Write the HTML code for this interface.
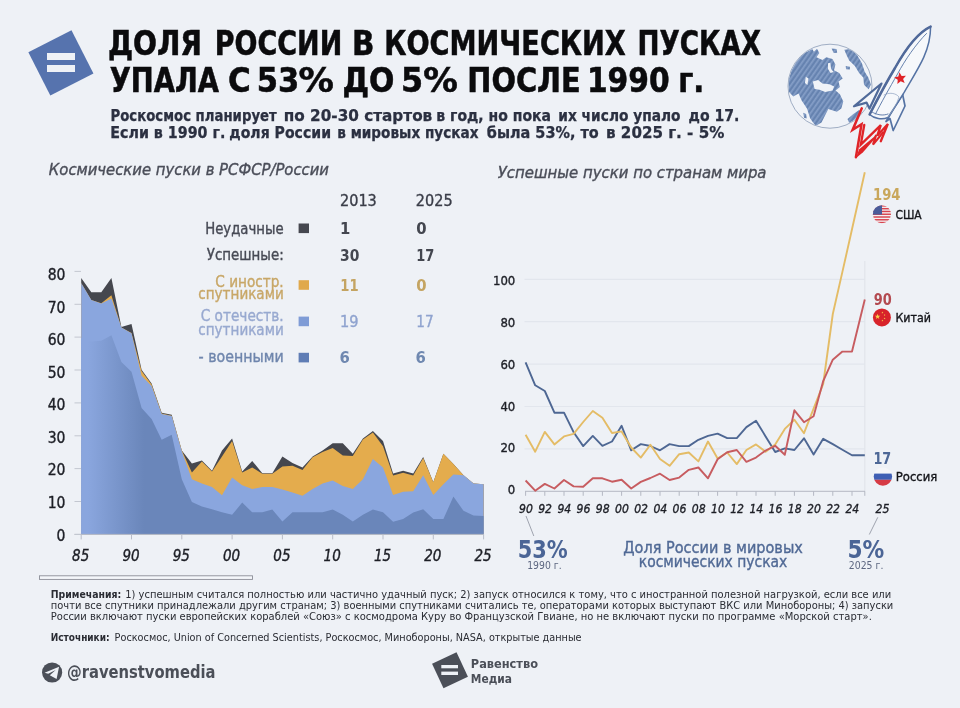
<!DOCTYPE html>
<html lang="ru"><head><meta charset="utf-8"><title>Доля России в космических пусках</title>
<style>
html,body{margin:0;padding:0;background:#eef1f6;}
body{width:960px;height:708px;overflow:hidden;}
svg{display:block;font-family:'DejaVu Sans Condensed','DejaVu Sans','Liberation Sans',sans-serif;}
text{white-space:pre;}
</style></head><body>
<svg width="960" height="708" viewBox="0 0 960 708">
<rect width="960" height="708" fill="#eef1f6"/>
<defs>
<pattern id="hatch" width="4" height="4" patternUnits="userSpaceOnUse" patternTransform="rotate(-55)">
<rect width="4" height="4" fill="#6e8bb9"/>
<rect y="0.4" width="4" height="0.9" fill="#96add1"/>
<rect y="2.5" width="4" height="0.8" fill="#5a77a3"/>
</pattern>
<clipPath id="gc"><circle cx="830" cy="86.2" r="41.5"/></clipPath>
</defs>
<circle cx="830" cy="86.2" r="42" fill="#f0f3f8" stroke="#7c8fae" stroke-width="0.7"/>
<g clip-path="url(#gc)" fill="url(#hatch)">
<path d="M 809.0 50.8 L 812.2 49.1 L 813.9 51.7 L 817.0 48.8 L 819.3 53.1 L 816.4 57.3 L 822.4 59.9 L 826.3 57.3 L 832.5 59.0 L 835.4 64.4 L 834.0 70.3 L 839.3 72.9 L 842.7 78.5 L 838.5 81.6 L 839.9 87.0 L 835.6 90.4 L 839.9 94.3 L 843.3 101.4 L 841.3 108.4 L 836.8 111.8 L 828.3 109.0 L 825.8 114.1 L 821.5 122.6 L 815.6 126.0 L 810.2 118.6 L 807.1 108.7 L 801.5 100.3 L 798.6 93.5 L 793.3 96.6 L 788.8 91.8 L 788.1 81.6 L 791.3 70.3 L 796.9 60.4 L 802.6 54.1 Z M 812.8 81.6 L 818.1 79.9 L 822.4 83.4 L 829.4 84.2 L 834.2 86.6 L 832.5 90.4 L 825.2 92.1 L 819.5 89.8 L 814.6 89.0 Z M 805.8 76.8 L 808.5 78.5 L 807.4 85.0 L 804.9 83.0 Z M 828.0 63.2 L 830.3 62.7 L 831.1 68.9 L 833.7 72.0 L 830.6 72.9 L 828.0 68.9 Z" fill-rule="evenodd"/>
<path d="M 844.3 49.8 L 850.6 49.1 L 857.0 54.8 L 861.9 63.2 L 864.7 71.7 L 868.3 77.4 L 871.0 84.4 L 868.6 89.2 L 864.0 84.7 L 863.3 77.4 L 859.1 73.1 L 854.9 66.1 L 849.2 60.4 L 846.4 54.8 Z"/>
<path d="M 831.6 48.4 L 836.5 49.1 L 837.2 52.7 L 833.7 52.9 Z"/>
<path d="M 845.7 66.1 L 849.9 66.8 L 849.9 69.6 L 846.1 69.2 Z"/>
<path d="M 803.3 112.7 L 806.1 114.1 L 806.8 118.6 L 804.0 117.8 Z"/>
<path d="M 847.5 118.9 L 853.4 114.1 L 859.1 109.9 L 861.6 112.7 L 854.9 120.0 L 849.2 123.1 Z"/>
</g>
<g stroke-linejoin="round" stroke-linecap="round">
<polygon points="855.7,158.2 859.2,149.3 876.8,134.5 875.0,138.5 862.8,152.5" fill="#e02428"/>
<polyline points="861.8,108.3 852.6,129.9 861.5,124.3 855.9,157.3" fill="none" stroke="#e02428" stroke-width="2.5" stroke-linejoin="miter"/>
<polyline points="875.9,135.7 873.0,144.6 883.1,132.4" fill="none" stroke="#e02428" stroke-width="2.2" stroke-linejoin="miter"/>
<polyline points="864.3,124.8 860.8,144.6 880.8,125.2 877.3,135.7 887.9,123.9 880.8,141.3" fill="none" stroke="#e02428" stroke-width="2.3" stroke-linejoin="miter"/>
<path d="M881.5 83.5 L854 106.3 L866.5 102.6 L869.5 108.5 Z" fill="#f4f6fa" stroke="#506a9a" stroke-width="2.2"/>
<path d="M902.5 94 L905 106 L893.2 130.5 L890 118.5 L886 121.5 Z" fill="#f4f6fa" stroke="#5573a4" stroke-width="1.7"/>
<path d="M930.6 26.6 C917 33 905 50 895 68 C886 83 876 102 869.6 114.5 C874 118.5 882 120 888 117.5 C894 108 899 101 903.5 93.5 C910 82 919 68 923.7 57.4 C928 48 930.6 36 930.6 26.6 Z" fill="#f6f8fb" stroke="#5573a4" stroke-width="1.5"/>
<path d="M930.6 26.6 C917 33 905 50 895 68 C886 83 876 102 869.6 114.5" fill="none" stroke="#50699a" stroke-width="2.5"/>
<path d="M926.5 33.5 C916 44 905 60 897.5 74 C889.5 88 881 103 875.5 114" fill="none" stroke="#5573a4" stroke-width="0.9"/>

<path d="M884 95 C889 92 896 93 899 97 C897 104 892 112 888 117" fill="none" stroke="#8da0c0" stroke-width="0.7"/>
<path d="M872 112 C877 115 883 116 888 114" fill="none" stroke="#5573a4" stroke-width="0.9"/>
</g>
<polygon points="899.42,72.26 901.63,76.00 905.96,75.74 903.09,78.99 904.68,83.03 900.69,81.31 897.34,84.06 897.75,79.74 894.10,77.41 898.33,76.46" fill="#e02428"/>

<g transform="translate(60.9 62.9) rotate(-27)"><rect x="-24.2" y="-24.2" width="48.4" height="48.4" fill="#5673ae"/></g>
<rect x="47" y="53" width="28" height="7" fill="#eef1f6"/><rect x="47" y="65" width="28" height="7" fill="#eef1f6"/>
<text y="54.5" font-size="33" font-weight="bold" fill="#0b0b0d" stroke="#0b0b0d" stroke-width="0.5"><tspan x="107.90" textLength="94.17" lengthAdjust="spacingAndGlyphs">ДОЛЯ</tspan> <tspan x="214.85" textLength="127.41" lengthAdjust="spacingAndGlyphs">РОССИИ</tspan> <tspan x="352.10" textLength="22.42" lengthAdjust="spacingAndGlyphs">В</tspan> <tspan x="384.25" textLength="241.54" lengthAdjust="spacingAndGlyphs">КОСМИЧЕСКИХ</tspan> <tspan x="637.55" textLength="123.56" lengthAdjust="spacingAndGlyphs">ПУСКАХ</tspan></text>
<text y="92" font-size="33" font-weight="bold" fill="#0b0b0d" stroke="#0b0b0d" stroke-width="0.5"><tspan x="109.65" textLength="109.26" lengthAdjust="spacingAndGlyphs">УПАЛА</tspan> <tspan x="228.10" textLength="22.75" lengthAdjust="spacingAndGlyphs">С</tspan> <tspan x="256.75" textLength="42.50" lengthAdjust="spacingAndGlyphs">53</tspan><tspan x="298.40" textLength="35.38" lengthAdjust="spacingAndGlyphs">%</tspan> <tspan x="342.45" textLength="51.93" lengthAdjust="spacingAndGlyphs">ДО</tspan> <tspan x="401.05" textLength="22.11" lengthAdjust="spacingAndGlyphs">5</tspan><tspan x="423.20" textLength="34.63" lengthAdjust="spacingAndGlyphs">%</tspan> <tspan x="467.30" textLength="113.43" lengthAdjust="spacingAndGlyphs">ПОСЛЕ</tspan> <tspan x="586.95" textLength="82.76" lengthAdjust="spacingAndGlyphs">1990</tspan> <tspan x="678.15" textLength="26.02" lengthAdjust="spacingAndGlyphs">г.</tspan></text>
<text y="121.3" font-size="15.5" font-weight="bold" fill="#2b3041" stroke="#2b3041" stroke-width="0.25"><tspan x="110.50" textLength="166.26" lengthAdjust="spacingAndGlyphs">Роскосмос планирует</tspan> <tspan x="283.75" textLength="148.52" lengthAdjust="spacingAndGlyphs">по 20-30 стартов</tspan> <tspan x="436.30" textLength="114.79" lengthAdjust="spacingAndGlyphs">в год, но пока</tspan> <tspan x="558.30" textLength="122.27" lengthAdjust="spacingAndGlyphs">их число упало</tspan> <tspan x="688.55" textLength="50.84" lengthAdjust="spacingAndGlyphs">до 17.</tspan></text>
<text y="137.5" font-size="15.5" font-weight="bold" fill="#2b3041" stroke="#2b3041" stroke-width="0.25"><tspan x="110.25" textLength="115.06" lengthAdjust="spacingAndGlyphs">Если в 1990 г.</tspan> <tspan x="229.25" textLength="101.78" lengthAdjust="spacingAndGlyphs">доля России</tspan> <tspan x="337.30" textLength="141.26" lengthAdjust="spacingAndGlyphs">в мировых пусках</tspan> <tspan x="486.80" textLength="112.01" lengthAdjust="spacingAndGlyphs">была 53%, то</tspan> <tspan x="606.05" textLength="118.28" lengthAdjust="spacingAndGlyphs">в 2025 г. - 5%</tspan></text>
<text x="48.8" y="175.3" font-size="15.5" font-weight="normal" font-style="italic" fill="#4b4e59" text-anchor="start" textLength="280.2" lengthAdjust="spacingAndGlyphs" stroke="#4b4e59" stroke-width="0.35">Космические пуски в РСФСР/России</text>
<text x="497.8" y="178.4" font-size="15.5" font-weight="normal" font-style="italic" fill="#4b4e59" text-anchor="start" textLength="268.7" lengthAdjust="spacingAndGlyphs" stroke="#4b4e59" stroke-width="0.35">Успешные пуски по странам мира</text>
<defs><linearGradient id="mg" gradientUnits="userSpaceOnUse" x1="88" y1="0" x2="144" y2="0"><stop offset="0" stop-color="#8aa6de"/><stop offset="1" stop-color="#6a86ba"/></linearGradient></defs>
<polygon points="81.2,534.4 81.2,278.1 91.3,292.2 101.3,292.2 111.4,278.1 121.4,326.9 131.5,323.9 141.6,369.8 151.6,383.5 161.7,412.7 171.7,414.7 181.8,450.4 191.9,463.6 201.9,460.6 212.0,470.8 222.0,450.4 232.1,438.6 242.2,471.6 252.2,460.9 262.3,473.3 272.3,473.3 282.4,456.4 292.5,463.1 302.5,467.4 312.6,456.4 322.6,450.4 332.7,443.3 342.8,443.3 352.8,453.8 362.9,438.6 372.9,430.9 383.0,441.1 393.1,473.4 403.1,470.8 413.2,473.4 423.2,456.9 433.3,482.3 443.4,453.7 453.4,463.9 463.5,475.3 473.5,483.6 483.6,484.2 483.6,534.4" fill="#45474e"/>
<polygon points="81.2,534.4 81.2,283.0 91.3,300.0 101.3,303.3 111.4,295.2 121.4,327.5 131.5,333.0 141.6,371.0 151.6,384.5 161.7,413.5 171.7,415.7 181.8,450.6 191.9,472.5 201.9,461.4 212.0,471.6 222.0,456.4 232.1,441.1 242.2,472.5 252.2,467.4 262.3,473.8 272.3,473.8 282.4,466.5 292.5,465.7 302.5,469.9 312.6,457.2 322.6,452.1 332.7,447.9 342.8,455.5 352.8,456.0 362.9,439.4 372.9,432.6 383.0,446.2 393.1,475.5 403.1,472.8 413.2,475.5 423.2,458.1 433.3,482.3 443.4,453.7 453.4,463.9 463.5,475.3 473.5,483.6 483.6,484.2 483.6,534.4" fill="#e4ac4d"/>
<polygon points="81.2,534.4 81.2,283.0 91.3,300.1 101.3,303.5 111.4,298.4 121.4,327.5 131.5,333.2 141.6,375.7 151.6,385.9 161.7,413.9 171.7,416.0 181.8,451.3 191.9,479.2 201.9,483.5 212.0,486.9 222.0,495.3 232.1,477.5 242.2,485.2 252.2,489.1 262.3,486.9 272.3,486.9 282.4,489.4 292.5,492.5 302.5,495.8 312.6,489.1 322.6,483.5 332.7,480.6 342.8,486.0 352.8,489.1 362.9,479.2 372.9,458.9 383.0,467.4 393.1,495.0 403.1,491.8 413.2,491.2 423.2,475.3 433.3,495.0 443.4,484.2 453.4,474.4 463.5,475.3 473.5,483.6 483.6,484.2 483.6,534.4" fill="#8aa6de"/>
<polygon points="81.2,534.4 81.2,338.0 91.3,341.5 101.3,340.8 111.4,335.2 121.4,362.0 131.5,371.8 141.6,407.9 151.6,419.0 161.7,439.8 171.7,434.8 181.8,479.2 191.9,502.1 201.9,506.4 212.0,509.2 222.0,512.3 232.1,514.8 242.2,502.6 252.2,512.3 262.3,512.3 272.3,509.4 282.4,521.6 292.5,512.3 302.5,512.3 312.6,512.3 322.6,512.3 332.7,509.4 342.8,514.8 352.8,521.6 362.9,514.8 372.9,509.4 383.0,512.3 393.1,521.7 403.1,519.0 413.2,512.4 423.2,509.2 433.3,519.0 443.4,519.0 453.4,496.6 463.5,510.8 473.5,515.6 483.6,515.9 483.6,534.4" fill="url(#mg)"/>
<line x1="74.5" y1="534.4" x2="484" y2="534.4" stroke="#b9bdc8" stroke-width="1"/>
<line x1="74.5" y1="534.4" x2="81" y2="534.4" stroke="#c3c7d0" stroke-width="1"/>
<text x="65.4" y="540.5" font-size="15.5" font-weight="normal" font-style="normal" fill="#1d1f26" text-anchor="end" stroke="#1d1f26" stroke-width="0.35">0</text>
<line x1="74.5" y1="501.5" x2="81" y2="501.5" stroke="#c3c7d0" stroke-width="1"/>
<text x="65.4" y="507.9" font-size="15.5" font-weight="normal" font-style="normal" fill="#1d1f26" text-anchor="end" stroke="#1d1f26" stroke-width="0.35">10</text>
<line x1="74.5" y1="468.6" x2="81" y2="468.6" stroke="#c3c7d0" stroke-width="1"/>
<text x="65.4" y="475.4" font-size="15.5" font-weight="normal" font-style="normal" fill="#1d1f26" text-anchor="end" stroke="#1d1f26" stroke-width="0.35">20</text>
<line x1="74.5" y1="435.8" x2="81" y2="435.8" stroke="#c3c7d0" stroke-width="1"/>
<text x="65.4" y="442.8" font-size="15.5" font-weight="normal" font-style="normal" fill="#1d1f26" text-anchor="end" stroke="#1d1f26" stroke-width="0.35">30</text>
<line x1="74.5" y1="402.9" x2="81" y2="402.9" stroke="#c3c7d0" stroke-width="1"/>
<text x="65.4" y="410.3" font-size="15.5" font-weight="normal" font-style="normal" fill="#1d1f26" text-anchor="end" stroke="#1d1f26" stroke-width="0.35">40</text>
<line x1="74.5" y1="370.0" x2="81" y2="370.0" stroke="#c3c7d0" stroke-width="1"/>
<text x="65.4" y="377.7" font-size="15.5" font-weight="normal" font-style="normal" fill="#1d1f26" text-anchor="end" stroke="#1d1f26" stroke-width="0.35">50</text>
<line x1="74.5" y1="337.1" x2="81" y2="337.1" stroke="#c3c7d0" stroke-width="1"/>
<text x="65.4" y="345.1" font-size="15.5" font-weight="normal" font-style="normal" fill="#1d1f26" text-anchor="end" stroke="#1d1f26" stroke-width="0.35">60</text>
<line x1="74.5" y1="304.3" x2="81" y2="304.3" stroke="#c3c7d0" stroke-width="1"/>
<text x="65.4" y="312.6" font-size="15.5" font-weight="normal" font-style="normal" fill="#1d1f26" text-anchor="end" stroke="#1d1f26" stroke-width="0.35">70</text>
<line x1="74.5" y1="271.4" x2="81" y2="271.4" stroke="#c3c7d0" stroke-width="1"/>
<text x="65.4" y="280.0" font-size="15.5" font-weight="normal" font-style="normal" fill="#1d1f26" text-anchor="end" stroke="#1d1f26" stroke-width="0.35">80</text>
<line x1="81.2" y1="534.4" x2="81.2" y2="539.4" stroke="#b9bdc8" stroke-width="1"/>
<text x="80.7" y="560.5" font-size="15" font-weight="normal" font-style="italic" fill="#1d1f26" text-anchor="middle" stroke="#1d1f26" stroke-width="0.35">85</text>
<line x1="131.5" y1="534.4" x2="131.5" y2="539.4" stroke="#b9bdc8" stroke-width="1"/>
<text x="131.0" y="560.5" font-size="15" font-weight="normal" font-style="italic" fill="#1d1f26" text-anchor="middle" stroke="#1d1f26" stroke-width="0.35">90</text>
<line x1="181.8" y1="534.4" x2="181.8" y2="539.4" stroke="#b9bdc8" stroke-width="1"/>
<text x="181.3" y="560.5" font-size="15" font-weight="normal" font-style="italic" fill="#1d1f26" text-anchor="middle" stroke="#1d1f26" stroke-width="0.35">95</text>
<line x1="232.1" y1="534.4" x2="232.1" y2="539.4" stroke="#b9bdc8" stroke-width="1"/>
<text x="231.6" y="560.5" font-size="15" font-weight="normal" font-style="italic" fill="#1d1f26" text-anchor="middle" stroke="#1d1f26" stroke-width="0.35">00</text>
<line x1="282.4" y1="534.4" x2="282.4" y2="539.4" stroke="#b9bdc8" stroke-width="1"/>
<text x="281.9" y="560.5" font-size="15" font-weight="normal" font-style="italic" fill="#1d1f26" text-anchor="middle" stroke="#1d1f26" stroke-width="0.35">05</text>
<line x1="332.7" y1="534.4" x2="332.7" y2="539.4" stroke="#b9bdc8" stroke-width="1"/>
<text x="332.2" y="560.5" font-size="15" font-weight="normal" font-style="italic" fill="#1d1f26" text-anchor="middle" stroke="#1d1f26" stroke-width="0.35">10</text>
<line x1="383.0" y1="534.4" x2="383.0" y2="539.4" stroke="#b9bdc8" stroke-width="1"/>
<text x="382.5" y="560.5" font-size="15" font-weight="normal" font-style="italic" fill="#1d1f26" text-anchor="middle" stroke="#1d1f26" stroke-width="0.35">15</text>
<line x1="433.3" y1="534.4" x2="433.3" y2="539.4" stroke="#b9bdc8" stroke-width="1"/>
<text x="432.8" y="560.5" font-size="15" font-weight="normal" font-style="italic" fill="#1d1f26" text-anchor="middle" stroke="#1d1f26" stroke-width="0.35">20</text>
<line x1="483.6" y1="534.4" x2="483.6" y2="539.4" stroke="#b9bdc8" stroke-width="1"/>
<text x="483.1" y="560.5" font-size="15" font-weight="normal" font-style="italic" fill="#1d1f26" text-anchor="middle" stroke="#1d1f26" stroke-width="0.35">25</text>
<text x="340.0" y="205.8" font-size="16.5" font-weight="normal" font-style="normal" fill="#3a3d48" text-anchor="start" textLength="36.8" lengthAdjust="spacingAndGlyphs" stroke="#3a3d48" stroke-width="0.35">2013</text>
<text x="415.8" y="205.8" font-size="16.5" font-weight="normal" font-style="normal" fill="#3a3d48" text-anchor="start" textLength="36.8" lengthAdjust="spacingAndGlyphs" stroke="#3a3d48" stroke-width="0.35">2025</text>
<text x="283.6" y="233.9" font-size="15.5" font-weight="normal" font-style="normal" fill="#474a55" text-anchor="end" textLength="78.4" lengthAdjust="spacingAndGlyphs" stroke="#474a55" stroke-width="0.35">Неудачные</text>
<text x="283.7" y="259.9" font-size="15.5" font-weight="normal" font-style="normal" fill="#474a55" text-anchor="end" textLength="76.9" lengthAdjust="spacingAndGlyphs" stroke="#474a55" stroke-width="0.35">Успешные:</text>
<text x="283.7" y="287.1" font-size="15.5" font-weight="normal" font-style="normal" fill="#c8a767" text-anchor="end" textLength="68.4" lengthAdjust="spacingAndGlyphs" stroke="#c8a767" stroke-width="0.35">С иностр.</text>
<text x="283.7" y="298.6" font-size="15.5" font-weight="normal" font-style="normal" fill="#c8a767" text-anchor="end" textLength="85.4" lengthAdjust="spacingAndGlyphs" stroke="#c8a767" stroke-width="0.35">спутниками</text>
<text x="283.7" y="320.5" font-size="15.5" font-weight="normal" font-style="normal" fill="#98a9d0" text-anchor="end" textLength="83.0" lengthAdjust="spacingAndGlyphs" stroke="#98a9d0" stroke-width="0.35">С отечеств.</text>
<text x="283.7" y="335.0" font-size="15.5" font-weight="normal" font-style="normal" fill="#98a9d0" text-anchor="end" textLength="85.4" lengthAdjust="spacingAndGlyphs" stroke="#98a9d0" stroke-width="0.35">спутниками</text>
<text x="283.7" y="362.0" font-size="15.5" font-weight="normal" font-style="normal" fill="#6f86ad" text-anchor="end" textLength="85.1" lengthAdjust="spacingAndGlyphs" stroke="#6f86ad" stroke-width="0.35">- военными</text>
<rect x="298.6" y="223.5" width="10.4" height="9.6" fill="#45474f"/>
<rect x="298.6" y="280.2" width="10.4" height="9.6" fill="#e0a94c"/>
<rect x="298.6" y="316.6" width="10.4" height="9.6" fill="#7f9cd6"/>
<rect x="298.6" y="352.8" width="10.4" height="9.6" fill="#5f7db5"/>
<text x="340.0" y="233.9" font-size="16.5" font-weight="bold" font-style="normal" fill="#43464f" text-anchor="start">1</text>
<text x="416.3" y="233.9" font-size="16.5" font-weight="bold" font-style="normal" fill="#43464f" text-anchor="start">0</text>
<text x="340.0" y="260.5" font-size="16.5" font-weight="bold" font-style="normal" fill="#43464f" text-anchor="start" textLength="19.3" lengthAdjust="spacingAndGlyphs">30</text>
<text x="416.3" y="260.5" font-size="16.5" font-weight="bold" font-style="normal" fill="#43464f" text-anchor="start" textLength="18.1" lengthAdjust="spacingAndGlyphs">17</text>
<text x="340.3" y="290.5" font-size="16.5" font-weight="bold" font-style="normal" fill="#c4a462" text-anchor="start" textLength="18.3" lengthAdjust="spacingAndGlyphs">11</text>
<text x="416.3" y="290.5" font-size="16.5" font-weight="bold" font-style="normal" fill="#c4a462" text-anchor="start">0</text>
<text x="340.0" y="326.9" font-size="16.5" font-weight="normal" font-style="normal" fill="#8fa3cf" text-anchor="start" textLength="18.6" lengthAdjust="spacingAndGlyphs" stroke="#8fa3cf" stroke-width="0.35">19</text>
<text x="416.3" y="326.9" font-size="16.5" font-weight="normal" font-style="normal" fill="#8fa3cf" text-anchor="start" textLength="17.3" lengthAdjust="spacingAndGlyphs" stroke="#8fa3cf" stroke-width="0.35">17</text>
<text x="339.5" y="362.9" font-size="16.5" font-weight="bold" font-style="normal" fill="#6f88b0" text-anchor="start">6</text>
<text x="415.5" y="362.9" font-size="16.5" font-weight="bold" font-style="normal" fill="#6f88b0" text-anchor="start">6</text>
<line x1="524.5" y1="448.9" x2="865" y2="448.9" stroke="#e2e6ed" stroke-width="1.2"/>
<line x1="524.5" y1="406.5" x2="865" y2="406.5" stroke="#e2e6ed" stroke-width="1.2"/>
<line x1="524.5" y1="364.1" x2="865" y2="364.1" stroke="#e2e6ed" stroke-width="1.2"/>
<line x1="524.5" y1="321.7" x2="865" y2="321.7" stroke="#e2e6ed" stroke-width="1.2"/>
<line x1="524.5" y1="279.3" x2="865" y2="279.3" stroke="#e2e6ed" stroke-width="1.2"/>
<line x1="864.8" y1="261" x2="864.8" y2="491.3" stroke="#e1e5ec" stroke-width="1.2"/>
<text x="515.3" y="494.0" font-size="13" font-weight="normal" font-style="normal" fill="#1d1f26" text-anchor="end" stroke="#1d1f26" stroke-width="0.35">0</text>
<text x="515.3" y="452.3" font-size="13" font-weight="normal" font-style="normal" fill="#1d1f26" text-anchor="end" stroke="#1d1f26" stroke-width="0.35">20</text>
<text x="515.3" y="410.5" font-size="13" font-weight="normal" font-style="normal" fill="#1d1f26" text-anchor="end" stroke="#1d1f26" stroke-width="0.35">40</text>
<text x="515.3" y="368.8" font-size="13" font-weight="normal" font-style="normal" fill="#1d1f26" text-anchor="end" stroke="#1d1f26" stroke-width="0.35">60</text>
<text x="515.3" y="327.0" font-size="13" font-weight="normal" font-style="normal" fill="#1d1f26" text-anchor="end" stroke="#1d1f26" stroke-width="0.35">80</text>
<text x="515.3" y="285.3" font-size="13" font-weight="normal" font-style="normal" fill="#1d1f26" text-anchor="end" stroke="#1d1f26" stroke-width="0.35">100</text>
<line x1="525" y1="491.3" x2="865" y2="491.3" stroke="#b4b8c3" stroke-width="1"/>
<line x1="525.6" y1="491.3" x2="525.6" y2="495.8" stroke="#b4b8c3" stroke-width="1"/>
<line x1="544.8" y1="491.3" x2="544.8" y2="495.8" stroke="#b4b8c3" stroke-width="1"/>
<line x1="564.0" y1="491.3" x2="564.0" y2="495.8" stroke="#b4b8c3" stroke-width="1"/>
<line x1="583.2" y1="491.3" x2="583.2" y2="495.8" stroke="#b4b8c3" stroke-width="1"/>
<line x1="602.4" y1="491.3" x2="602.4" y2="495.8" stroke="#b4b8c3" stroke-width="1"/>
<line x1="621.6" y1="491.3" x2="621.6" y2="495.8" stroke="#b4b8c3" stroke-width="1"/>
<line x1="640.8" y1="491.3" x2="640.8" y2="495.8" stroke="#b4b8c3" stroke-width="1"/>
<line x1="660.0" y1="491.3" x2="660.0" y2="495.8" stroke="#b4b8c3" stroke-width="1"/>
<line x1="679.2" y1="491.3" x2="679.2" y2="495.8" stroke="#b4b8c3" stroke-width="1"/>
<line x1="698.4" y1="491.3" x2="698.4" y2="495.8" stroke="#b4b8c3" stroke-width="1"/>
<line x1="717.6" y1="491.3" x2="717.6" y2="495.8" stroke="#b4b8c3" stroke-width="1"/>
<line x1="736.8" y1="491.3" x2="736.8" y2="495.8" stroke="#b4b8c3" stroke-width="1"/>
<line x1="756.0" y1="491.3" x2="756.0" y2="495.8" stroke="#b4b8c3" stroke-width="1"/>
<line x1="775.2" y1="491.3" x2="775.2" y2="495.8" stroke="#b4b8c3" stroke-width="1"/>
<line x1="794.4" y1="491.3" x2="794.4" y2="495.8" stroke="#b4b8c3" stroke-width="1"/>
<line x1="813.6" y1="491.3" x2="813.6" y2="495.8" stroke="#b4b8c3" stroke-width="1"/>
<line x1="832.8" y1="491.3" x2="832.8" y2="495.8" stroke="#b4b8c3" stroke-width="1"/>
<line x1="852.0" y1="491.3" x2="852.0" y2="495.8" stroke="#b4b8c3" stroke-width="1"/>
<line x1="864.8" y1="491.3" x2="864.8" y2="495.8" stroke="#b4b8c3" stroke-width="1"/>
<text x="525.9" y="512.6" font-size="13" font-weight="normal" font-style="italic" fill="#1d1f26" text-anchor="middle" textLength="13.8" lengthAdjust="spacingAndGlyphs" stroke="#1d1f26" stroke-width="0.35">90</text>
<text x="545.1" y="512.6" font-size="13" font-weight="normal" font-style="italic" fill="#1d1f26" text-anchor="middle" textLength="13.8" lengthAdjust="spacingAndGlyphs" stroke="#1d1f26" stroke-width="0.35">92</text>
<text x="564.3" y="512.6" font-size="13" font-weight="normal" font-style="italic" fill="#1d1f26" text-anchor="middle" textLength="13.8" lengthAdjust="spacingAndGlyphs" stroke="#1d1f26" stroke-width="0.35">94</text>
<text x="583.5" y="512.6" font-size="13" font-weight="normal" font-style="italic" fill="#1d1f26" text-anchor="middle" textLength="13.8" lengthAdjust="spacingAndGlyphs" stroke="#1d1f26" stroke-width="0.35">96</text>
<text x="602.7" y="512.6" font-size="13" font-weight="normal" font-style="italic" fill="#1d1f26" text-anchor="middle" textLength="13.8" lengthAdjust="spacingAndGlyphs" stroke="#1d1f26" stroke-width="0.35">98</text>
<text x="621.9" y="512.6" font-size="13" font-weight="normal" font-style="italic" fill="#1d1f26" text-anchor="middle" textLength="13.8" lengthAdjust="spacingAndGlyphs" stroke="#1d1f26" stroke-width="0.35">00</text>
<text x="641.1" y="512.6" font-size="13" font-weight="normal" font-style="italic" fill="#1d1f26" text-anchor="middle" textLength="13.8" lengthAdjust="spacingAndGlyphs" stroke="#1d1f26" stroke-width="0.35">02</text>
<text x="660.3" y="512.6" font-size="13" font-weight="normal" font-style="italic" fill="#1d1f26" text-anchor="middle" textLength="13.8" lengthAdjust="spacingAndGlyphs" stroke="#1d1f26" stroke-width="0.35">04</text>
<text x="679.5" y="512.6" font-size="13" font-weight="normal" font-style="italic" fill="#1d1f26" text-anchor="middle" textLength="13.8" lengthAdjust="spacingAndGlyphs" stroke="#1d1f26" stroke-width="0.35">06</text>
<text x="698.7" y="512.6" font-size="13" font-weight="normal" font-style="italic" fill="#1d1f26" text-anchor="middle" textLength="13.8" lengthAdjust="spacingAndGlyphs" stroke="#1d1f26" stroke-width="0.35">08</text>
<text x="717.9" y="512.6" font-size="13" font-weight="normal" font-style="italic" fill="#1d1f26" text-anchor="middle" textLength="13.8" lengthAdjust="spacingAndGlyphs" stroke="#1d1f26" stroke-width="0.35">10</text>
<text x="737.1" y="512.6" font-size="13" font-weight="normal" font-style="italic" fill="#1d1f26" text-anchor="middle" textLength="13.8" lengthAdjust="spacingAndGlyphs" stroke="#1d1f26" stroke-width="0.35">12</text>
<text x="756.3" y="512.6" font-size="13" font-weight="normal" font-style="italic" fill="#1d1f26" text-anchor="middle" textLength="13.8" lengthAdjust="spacingAndGlyphs" stroke="#1d1f26" stroke-width="0.35">14</text>
<text x="775.5" y="512.6" font-size="13" font-weight="normal" font-style="italic" fill="#1d1f26" text-anchor="middle" textLength="13.8" lengthAdjust="spacingAndGlyphs" stroke="#1d1f26" stroke-width="0.35">16</text>
<text x="794.7" y="512.6" font-size="13" font-weight="normal" font-style="italic" fill="#1d1f26" text-anchor="middle" textLength="13.8" lengthAdjust="spacingAndGlyphs" stroke="#1d1f26" stroke-width="0.35">18</text>
<text x="813.9" y="512.6" font-size="13" font-weight="normal" font-style="italic" fill="#1d1f26" text-anchor="middle" textLength="13.8" lengthAdjust="spacingAndGlyphs" stroke="#1d1f26" stroke-width="0.35">20</text>
<text x="833.1" y="512.6" font-size="13" font-weight="normal" font-style="italic" fill="#1d1f26" text-anchor="middle" textLength="13.8" lengthAdjust="spacingAndGlyphs" stroke="#1d1f26" stroke-width="0.35">22</text>
<text x="852.3" y="512.6" font-size="13" font-weight="normal" font-style="italic" fill="#1d1f26" text-anchor="middle" textLength="13.8" lengthAdjust="spacingAndGlyphs" stroke="#1d1f26" stroke-width="0.35">24</text>
<text x="875.6" y="512.6" font-size="13" font-weight="normal" font-style="italic" fill="#1d1f26" text-anchor="start" textLength="13.9" lengthAdjust="spacingAndGlyphs" stroke="#1d1f26" stroke-width="0.35">25</text>
<polyline points="525.6,362.4 535.2,385.3 544.8,391.0 554.4,412.7 564.0,412.7 573.6,432.2 583.2,446.1 592.8,435.9 602.4,445.8 612.0,441.5 621.6,425.8 631.2,450.3 640.8,444.1 650.4,446.0 660.0,450.3 669.6,444.1 679.2,446.1 688.8,446.1 698.4,439.8 708.0,435.9 717.6,433.6 727.2,438.1 736.8,438.1 746.4,427.1 756.0,420.7 765.6,436.4 775.2,452.0 784.8,448.4 794.4,450.0 804.0,438.3 813.6,454.4 823.2,438.8 832.8,444.2 842.4,449.7 852.0,455.3 864.8,455.3" fill="none" stroke="#4e6793" stroke-width="1.9" stroke-linejoin="round" stroke-linecap="butt"/>
<polyline points="525.6,434.7 535.2,451.7 544.8,431.9 554.4,444.4 564.0,436.4 573.6,433.9 583.2,422.0 592.8,411.0 602.4,417.8 612.0,433.0 621.6,431.4 631.2,447.5 640.8,457.6 650.4,444.8 660.0,459.0 669.6,465.8 679.2,454.2 688.8,452.5 698.4,461.4 708.0,441.5 717.6,458.5 727.2,452.5 736.8,464.1 746.4,450.0 756.0,444.4 765.6,451.7 775.2,444.4 784.8,428.9 794.4,419.7 804.0,433.2 813.6,408.6 823.2,384.0 832.8,314.0 842.4,271.9 852.0,229.3 864.8,172.2" fill="none" stroke="#e4bc66" stroke-width="1.9" stroke-linejoin="round" stroke-linecap="butt"/>
<polyline points="525.6,480.5 535.2,490.7 544.8,483.9 554.4,488.5 564.0,480.0 573.6,486.4 583.2,486.8 592.8,478.3 602.4,478.3 612.0,481.7 621.6,479.7 631.2,488.5 640.8,481.9 650.4,478.0 660.0,473.7 669.6,480.0 679.2,477.6 688.8,469.8 698.4,467.5 708.0,478.3 717.6,459.3 727.2,452.2 736.8,450.0 746.4,461.9 756.0,457.6 765.6,450.5 775.2,445.8 784.8,454.8 794.4,410.3 804.0,422.2 813.6,416.3 823.2,381.1 832.8,359.7 842.4,351.6 852.0,351.6 864.8,299.6" fill="none" stroke="#c75c60" stroke-width="1.9" stroke-linejoin="round" stroke-linecap="butt"/>
<text x="873.0" y="200.3" font-size="16" font-weight="bold" font-style="normal" fill="#c9a75c" text-anchor="start" textLength="27.5" lengthAdjust="spacingAndGlyphs">194</text>
<text x="873.7" y="304.7" font-size="16" font-weight="bold" font-style="normal" fill="#b34a50" text-anchor="start" textLength="18.0" lengthAdjust="spacingAndGlyphs">90</text>
<text x="873.4" y="463.7" font-size="16" font-weight="bold" font-style="normal" fill="#4d6796" text-anchor="start" textLength="17.8" lengthAdjust="spacingAndGlyphs">17</text>
<text x="895.4" y="218.6" font-size="13" font-weight="normal" font-style="normal" fill="#14151a" text-anchor="start" textLength="26.3" lengthAdjust="spacingAndGlyphs" stroke="#14151a" stroke-width="0.35">США</text>
<text x="895.4" y="322.1" font-size="13" font-weight="normal" font-style="normal" fill="#14151a" text-anchor="start" textLength="35.5" lengthAdjust="spacingAndGlyphs" stroke="#14151a" stroke-width="0.35">Китай</text>
<text x="895.8" y="481.0" font-size="13" font-weight="normal" font-style="normal" fill="#14151a" text-anchor="start" textLength="41.5" lengthAdjust="spacingAndGlyphs" stroke="#14151a" stroke-width="0.35">Россия</text>
<defs><clipPath id="cu"><circle cx="881.9" cy="214.2" r="9"/></clipPath><clipPath id="cr"><circle cx="882.9" cy="476.6" r="9.2"/></clipPath></defs>
<g clip-path="url(#cu)"><rect x="872" y="205" width="20" height="19" fill="#f3f1f2"/><rect x="872" y="205.20" width="20" height="1.45" fill="#d8434e"/><rect x="872" y="207.97" width="20" height="1.45" fill="#d8434e"/><rect x="872" y="210.74" width="20" height="1.45" fill="#d8434e"/><rect x="872" y="213.51" width="20" height="1.45" fill="#d8434e"/><rect x="872" y="216.28" width="20" height="1.45" fill="#d8434e"/><rect x="872" y="219.05" width="20" height="1.45" fill="#d8434e"/><rect x="872" y="221.82" width="20" height="1.45" fill="#d8434e"/><rect x="872" y="205" width="10" height="9.6" fill="#4a5c9a"/></g>
<circle cx="881.9" cy="317.4" r="9" fill="#d8232a"/>
<polygon points="877.60,313.70 878.28,315.66 880.36,315.70 878.70,316.96 879.30,318.95 877.60,317.76 875.90,318.95 876.50,316.96 874.84,315.70 876.92,315.66" fill="#f6d44a"/>
<polygon points="882.40,311.60 882.64,312.28 883.35,312.29 882.78,312.72 882.99,313.41 882.40,313.00 881.81,313.41 882.02,312.72 881.45,312.29 882.16,312.28" fill="#f6d44a"/>
<polygon points="884.60,314.00 884.84,314.68 885.55,314.69 884.98,315.12 885.19,315.81 884.60,315.40 884.01,315.81 884.22,315.12 883.65,314.69 884.36,314.68" fill="#f6d44a"/>
<polygon points="884.60,317.40 884.84,318.08 885.55,318.09 884.98,318.52 885.19,319.21 884.60,318.80 884.01,319.21 884.22,318.52 883.65,318.09 884.36,318.08" fill="#f6d44a"/>
<polygon points="882.40,319.60 882.64,320.28 883.35,320.29 882.78,320.72 882.99,321.41 882.40,321.00 881.81,321.41 882.02,320.72 881.45,320.29 882.16,320.28" fill="#f6d44a"/>
<g clip-path="url(#cr)"><rect x="873" y="467" width="20" height="6.6" fill="#f4f5f8"/><rect x="873" y="473.6" width="20" height="6.2" fill="#3f5fb4"/><rect x="873" y="479.8" width="20" height="7" fill="#d63a44"/></g>
<line x1="526" y1="516" x2="533.8" y2="536" stroke="#8a8f9c" stroke-width="0.8"/>
<line x1="877.8" y1="517.3" x2="869.3" y2="534.5" stroke="#8a8f9c" stroke-width="0.8"/>
<text x="517.8" y="557.5" font-size="24" font-weight="bold" font-style="normal" fill="#4b6596" text-anchor="start" textLength="50.0" lengthAdjust="spacingAndGlyphs">53%</text>
<text x="527.2" y="568.8" font-size="10.8" font-weight="normal" font-style="normal" fill="#5d6781" text-anchor="start" textLength="34.4" lengthAdjust="spacingAndGlyphs">1990 г.</text>
<text x="847.4" y="557.5" font-size="24" font-weight="bold" font-style="normal" fill="#4b6596" text-anchor="start" textLength="36.8" lengthAdjust="spacingAndGlyphs">5%</text>
<text x="848.8" y="568.8" font-size="10.8" font-weight="normal" font-style="normal" fill="#5d6781" text-anchor="start" textLength="34.6" lengthAdjust="spacingAndGlyphs">2025 г.</text>
<text x="623.3" y="552.7" font-size="16" font-weight="normal" font-style="normal" fill="#506995" text-anchor="start" textLength="179.6" lengthAdjust="spacingAndGlyphs" stroke="#506995" stroke-width="0.35">Доля России в мировых</text>
<text x="638.8" y="566.5" font-size="16" font-weight="normal" font-style="normal" fill="#506995" text-anchor="start" textLength="148.5" lengthAdjust="spacingAndGlyphs" stroke="#506995" stroke-width="0.35">космических пусках</text>
<rect x="39.5" y="575.8" width="213" height="3.6" fill="#f4f6fa" stroke="#8b8e97" stroke-width="0.9"/>
<text x="50.8" y="598.0" font-size="10.5" font-weight="bold" font-style="normal" fill="#2a2c33" text-anchor="start" textLength="70.5" lengthAdjust="spacingAndGlyphs">Примечания:</text>
<text x="125.2" y="598.0" font-size="10.5" font-weight="normal" font-style="normal" fill="#2a2c33" text-anchor="start" textLength="766.0" lengthAdjust="spacingAndGlyphs">1) успешным считался полностью или частично удачный пуск; 2) запуск относился к тому, что с иностранной полезной нагрузкой, если все или</text>
<text x="50.8" y="609.2" font-size="10.5" font-weight="normal" font-style="normal" fill="#2a2c33" text-anchor="start" textLength="842.5" lengthAdjust="spacingAndGlyphs">почти все спутники принадлежали другим странам; 3) военными спутниками считались те, операторами которых выступают ВКС или Минобороны; 4) запуски</text>
<text x="50.8" y="620.2" font-size="10.5" font-weight="normal" font-style="normal" fill="#2a2c33" text-anchor="start" textLength="821.0" lengthAdjust="spacingAndGlyphs">России включают пуски европейских кораблей «Союз» с космодрома Куру во Французской Гвиане, но не включают пуски по программе «Морской старт».</text>
<text x="50.8" y="641.3" font-size="10.5" font-weight="bold" font-style="normal" fill="#2a2c33" text-anchor="start" textLength="58.8" lengthAdjust="spacingAndGlyphs">Источники:</text>
<text x="114.6" y="641.3" font-size="10.5" font-weight="normal" font-style="normal" fill="#2a2c33" text-anchor="start" textLength="467.0" lengthAdjust="spacingAndGlyphs">Роскосмос, Union of Concerned Scientists, Роскосмос, Минобороны, NASA, открытые данные</text>
<circle cx="52.1" cy="672.5" r="10.1" fill="#4b4f58"/>
<path d="M44.6 672.7 L59.05 666.85 L56.6 679.05 L49.8 675.2 L55.7 670.1 L48.2 673.85 Z" fill="#eef1f6"/>
<text x="67.0" y="678.0" font-size="18" font-weight="bold" font-style="normal" fill="#4b4f58" text-anchor="start" textLength="148.5" lengthAdjust="spacingAndGlyphs">@ravenstvomedia</text>
<g transform="translate(450.0 670.3) rotate(-25)"><rect x="-13.5" y="-13.5" width="27" height="27" fill="#4b4f58"/></g>
<rect x="441.3" y="665" width="16.7" height="3.3" fill="#eef1f6"/><rect x="441.3" y="671.6" width="16.7" height="3.4" fill="#eef1f6"/>
<text x="470.8" y="668.3" font-size="13" font-weight="bold" font-style="normal" fill="#4b4f58" text-anchor="start" textLength="67.2" lengthAdjust="spacingAndGlyphs">Равенство</text>
<text x="470.8" y="683.0" font-size="13" font-weight="bold" font-style="normal" fill="#4b4f58" text-anchor="start" textLength="41.2" lengthAdjust="spacingAndGlyphs">Медиа</text>
</svg>
</body></html>
